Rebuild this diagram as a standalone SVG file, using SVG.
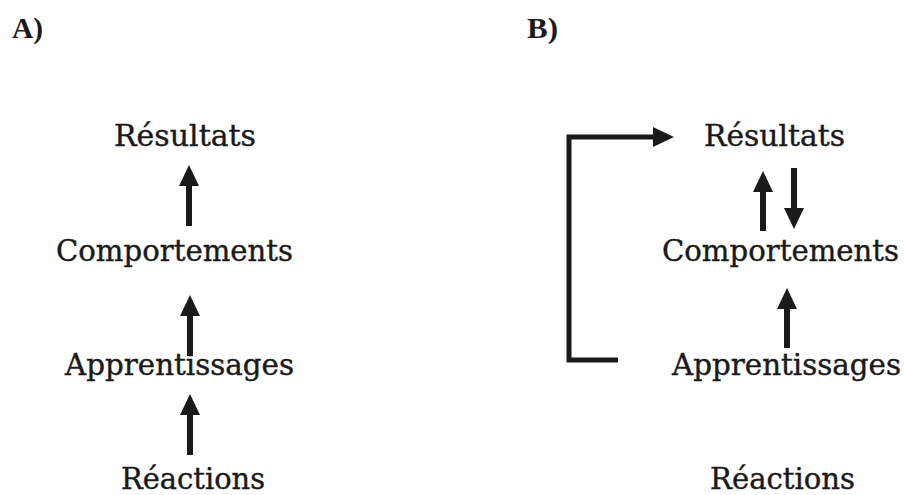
<svg xmlns="http://www.w3.org/2000/svg" width="904" height="495" viewBox="0 0 904 495">
<style>
.lbl{font-family:"DejaVu Serif","Liberation Serif",serif;font-size:29px;fill:#1a1a1a;stroke:#1a1a1a;stroke-width:0.4}
.hd{font-family:"Liberation Serif","DejaVu Serif",serif;font-size:30px;font-weight:bold;fill:#1a1a1a}
.cn{stroke:#1a1a1a;stroke-width:6;fill:none}
.br{stroke:#1a1a1a;stroke-width:5;fill:none;stroke-linejoin:miter}
</style>
<defs>
<marker id="ah" markerUnits="userSpaceOnUse" markerWidth="22" markerHeight="22" viewBox="0 0 22 22" refX="2" refY="11" orient="auto">
<path d="M0,1 L21,11 L0,21 Z" fill="#1a1a1a"/>
</marker>
</defs>
<rect width="904" height="495" fill="#fff"/>
<text class="hd" x="12" y="38" textLength="31" lengthAdjust="spacingAndGlyphs">A)</text>
<text class="hd" x="527" y="38" textLength="31" lengthAdjust="spacingAndGlyphs">B)</text>
<g id="a-resultats"><text class="lbl" x="114" y="146" textLength="142" lengthAdjust="spacingAndGlyphs">Résultats</text></g>
<g id="a-comportements"><text class="lbl" x="56" y="261" textLength="237" lengthAdjust="spacingAndGlyphs">Comportements</text></g>
<g id="a-apprentissages"><text class="lbl" x="65" y="375" textLength="229" lengthAdjust="spacingAndGlyphs">Apprentissages</text></g>
<g id="a-reactions"><text class="lbl" x="121" y="489" textLength="144" lengthAdjust="spacingAndGlyphs">Réactions</text></g>
<g id="b-resultats"><text class="lbl" x="704" y="146" textLength="141" lengthAdjust="spacingAndGlyphs">Résultats</text></g>
<g id="b-comportements"><text class="lbl" x="662" y="261" textLength="237" lengthAdjust="spacingAndGlyphs">Comportements</text></g>
<g id="b-apprentissages"><text class="lbl" x="672" y="375" textLength="229" lengthAdjust="spacingAndGlyphs">Apprentissages</text></g>
<g id="b-reactions"><text class="lbl" x="710" y="489" textLength="145" lengthAdjust="spacingAndGlyphs">Réactions</text></g>
<g id="connectors">
<path class="cn" d="M189,226 V184" marker-end="url(#ah)"/>
<path class="cn" d="M190,356 V314" marker-end="url(#ah)"/>
<path class="cn" d="M190,455 V413" marker-end="url(#ah)"/>
<path class="cn" d="M763,231 V190" marker-end="url(#ah)"/>
<path class="cn" d="M794,168 V210" marker-end="url(#ah)"/>
<path class="cn" d="M787,348 V307" marker-end="url(#ah)"/>
<path class="br" d="M618,360 H569 V137 H655" marker-end="url(#ah)"/>
</g>
</svg>
